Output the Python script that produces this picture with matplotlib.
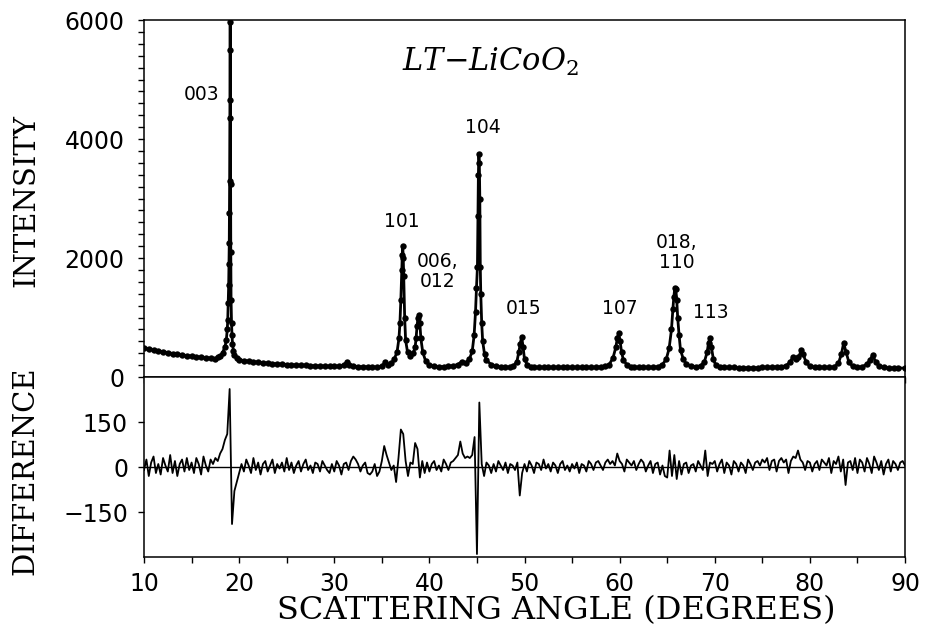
import numpy as np
import matplotlib
matplotlib.use("Agg")
import matplotlib.pyplot as plt

plt.rcParams['mathtext.fontset'] = 'dejavuserif'

obs_angle = [10.0, 10.5, 11.0, 11.5, 12.0, 12.5, 13.0, 13.5, 14.0, 14.5,
             15.0, 15.5, 16.0, 16.5, 17.0, 17.5, 17.8, 18.0, 18.25, 18.5,
             18.65, 18.75, 18.8, 18.85, 18.9, 18.93, 18.96, 18.98, 19.0, 19.02,
             19.04, 19.06, 19.08, 19.1, 19.12, 19.15, 19.2, 19.25, 19.3, 19.4,
             19.5, 19.75, 20.0, 20.5, 21.0, 21.5, 22.0, 22.5, 23.0, 23.5,
             24.0, 24.5, 25.0, 25.5, 26.0, 26.5, 27.0, 27.5, 28.0, 28.5,
             29.0, 29.5, 30.0, 30.5, 31.0, 31.3, 31.6, 32.0, 32.5, 33.0,
             33.5, 34.0, 34.5, 35.0, 35.35, 35.7, 36.0, 36.3, 36.6, 36.8,
             36.9, 37.0, 37.1, 37.15, 37.2, 37.25, 37.3, 37.4, 37.5, 37.7,
             38.0, 38.3, 38.5, 38.6, 38.7, 38.8, 38.9, 39.0, 39.1, 39.3,
             39.6, 40.0, 40.5, 41.0, 41.5, 42.0, 42.5, 43.0, 43.4, 43.8,
             44.2, 44.5, 44.7, 44.85, 44.95, 45.05, 45.1, 45.15, 45.2, 45.25,
             45.3, 45.35, 45.4, 45.5, 45.6, 45.8, 46.0, 46.5, 47.0, 47.5,
             48.0, 48.5, 48.8, 49.2, 49.4, 49.55, 49.7, 49.85, 50.0, 50.3,
             50.7, 51.0, 51.5, 52.0, 52.5, 53.0, 53.5, 54.0, 54.5, 55.0,
             55.5, 56.0, 56.5, 57.0, 57.5, 58.0, 58.5, 58.9, 59.3, 59.6,
             59.75, 59.9, 60.05, 60.2, 60.4, 60.8, 61.2, 61.5, 62.0, 62.5,
             63.0, 63.5, 64.0, 64.5, 64.9, 65.2, 65.45, 65.6, 65.7, 65.8,
             65.9, 66.0, 66.1, 66.25, 66.4, 66.7, 67.0, 67.5, 68.0, 68.5,
             68.9, 69.2, 69.35, 69.5, 69.65, 69.85, 70.1, 70.5, 71.0, 71.5,
             72.0, 72.5, 73.0, 73.5, 74.0, 74.5, 75.0, 75.5, 76.0, 76.5,
             77.0, 77.5, 77.9, 78.2, 78.5, 78.8, 79.1, 79.3, 79.6, 80.0,
             80.5, 81.0, 81.5, 82.0, 82.5, 83.0, 83.3, 83.55, 83.8, 84.1,
             84.5, 85.0, 85.5, 86.0, 86.3, 86.6, 86.9, 87.3, 87.8, 88.3,
             88.8, 89.3, 90.0]
obs_counts = [490, 470, 455, 440, 425, 410, 395, 385, 370, 360,
              350, 340, 330, 325, 315, 310, 330, 350, 410, 500,
              620, 800, 950, 1250, 1550, 1900, 2250, 2750, 3300, 4350,
              5500, 5960, 4650, 3250, 2100, 1300, 900, 700, 560, 440,
              370, 320, 290, 275, 265, 255, 250, 240, 235, 225,
              220, 215, 210, 205, 200, 195, 195, 190, 185, 185,
              180, 180, 180, 185, 200, 250, 205, 185, 175, 170,
              170, 165, 165, 180, 250, 210, 230, 300, 420, 650,
              900, 1300, 1800, 2050, 2200, 2000, 1700, 1000, 620, 420,
              360, 400, 500, 650, 850, 1000, 1050, 900, 650, 420,
              270, 200, 180, 170, 175, 180, 190, 210, 260, 240,
              300, 430, 700, 1100, 1500, 1850, 2700, 3400, 3750, 3600,
              3000, 1850, 1400, 900, 600, 380, 280, 210, 180, 170,
              165, 165, 180, 260, 420, 560, 680, 500, 300, 200,
              170, 165, 160, 160, 160, 160, 160, 160, 160, 160,
              160, 160, 160, 160, 165, 170, 180, 210, 320, 500,
              650, 740, 600, 420, 280, 200, 170, 165, 160, 160,
              160, 165, 170, 210, 300, 480, 800, 1150, 1350, 1500,
              1480, 1300, 1000, 700, 450, 300, 220, 185, 175, 190,
              250, 420, 580, 660, 500, 300, 200, 170, 160, 160,
              160, 155, 155, 155, 155, 155, 160, 160, 165, 170,
              175, 190, 250, 330, 300, 330, 450, 380, 250, 180,
              165, 160, 160, 160, 165, 230, 380, 570, 420, 250,
              180, 165, 170, 220, 280, 370, 260, 180, 160, 155,
              150, 150, 150]

# difference pattern on a 0.25 degree grid
diff_angle = np.arange(10.0, 90.01, 0.25)
diff_value = [-10, 25, -30, 15, 35, -20, 10, -25, 30, 5, -15, 40, -20, 20, -30, 10, 25, -15, 30, -10,
              15, -20, 30, 10, -25, 35, 5, -15, 25, 10, 30, 20, 45, 60, 90, 110, 260, -190, -80, -50,
              -20, 10, -15, 25, 5, -20, 30, -10, 15, -25, 10, 20, -15, 5, 25, -20, 10, -5, 15, -15,
              30, -10, 15, -20, 5, 20, -15, 10, 25, -10, 5, -20, 15, 10, -15, 20, 5, -10, -20, 10,
              -15, 20, 5, -25, 10, 15, -10, 20, 35, 25, 10, -15, 5, 15, -20, -25, -15, 10, -30, -15,
              20, 70, 40, 15, -10, 5, -50, 30, 125, 110, 20, -30, 15, 10, 80, 60, -35, 20, -20, 15,
              -15, 10, 20, -10, 5, -15, 25, 10, -10, 15, 20, 30, 40, 85, 45, 30, 35, 30, 40, 100,
              -290, 215, 10, -30, 15, 5, -20, 10, -15, 20, 5, -10, 15, -20, 10, 5, -10, 15, -95, -20,
              10, -15, 20, 5, -20, 15, 10, -10, 25, -5, 10, -15, 15, 5, -20, 10, 20, -10, 5, -15,
              10, -5, 15, -20, 10, 5, -15, 20, 10, -10, 15, 20, 5, -10, 15, 25, 10, 20, 5, 45,
              20, 10, -15, 25, 15, 5, 20, -10, 10, 25, 15, -15, 5, 20, -20, 10, 15, -25, 5, -30,
              -35, 55, -30, 40, -40, 20, -25, 10, 15, -20, 5, 10, -15, 20, 5, -10, 55, -30, 15, 10,
              20, -15, 10, 25, -20, 15, 5, -25, 20, 10, -15, 15, 5, -20, 25, 10, -10, 15, 20, 5,
              25, 15, 30, -10, 20, 25, -15, 20, 30, 15, 25, -20, 20, 35, 30, 55, 25, 15, -10, 20,
              15, -15, 10, 20, -10, 25, 15, 5, 30, -20, 20, 10, 35, -15, 25, -60, 15, 20, -10, 30,
              -20, 25, 15, -15, 30, 10, -20, 35, 15, -10, 20, -25, 10, 25, -15, 20, 10, -10, 15, 20, 5]

# peak labels (hkl) and where they sit
peak_labels = ["003", "101", "006,\n012", "104", "015", "107", "018,\n110", "113"]
label_x = [16.1, 37.1, 40.9, 45.6, 49.9, 60.0, 66.0, 69.6]
label_y = [4750, 2610, 1770, 4190, 1150, 1150, 2090, 1080]

fig = plt.figure(figsize=(9.25, 6.27), dpi=100)
ax1 = fig.add_axes([0.1557, 0.3987, 0.8227, 0.5694])
ax2 = fig.add_axes([0.1557, 0.1116, 0.8227, 0.2871])

tickfont = "DejaVu Sans"
labfont = "DejaVu Serif"

# top: observed intensity, dots joined by a line
ax1.plot(obs_angle, obs_counts, '-', color='black', lw=2.0)
ax1.plot(obs_angle, obs_counts, 'o', color='black', ms=4.6, mew=0)
ax1.set_xlim(10, 90)
ax1.set_ylim(0, 6000)
ax1.set_yticks([0, 2000, 4000, 6000])
ax1.set_yticks(np.arange(0, 6001, 200), minor=True)
ax1.set_xticks(np.arange(10, 91, 5))
ax1.set_xticklabels([])
ax1.tick_params(axis='y', which='both', direction='out', length=4, width=1,
                pad=10, labelsize=17)
ax1.tick_params(axis='x', direction='out', length=4, width=1)
for lab in ax1.get_yticklabels():
    lab.set_family(tickfont)

for t, x, y in zip(peak_labels, label_x, label_y):
    ax1.text(x, y, t, ha='center', va='center', fontsize=13.5,
             family=tickfont, linespacing=1.1)

ax1.text(46.4, 5300, "LT\u2212LiCoO$_2$", ha='center', va='center',
         fontsize=22, family=labfont, style='italic')

# bottom: difference
ax2.plot(diff_angle, diff_value, '-', color='black', lw=1.3)
ax2.axhline(0, color='black', lw=1.0)
ax2.set_xlim(10, 90)
ax2.set_ylim(-300, 300)
ax2.set_yticks([-150, 0, 150])
ax2.set_xticks(np.arange(10, 91, 10))
ax2.set_xticks(np.arange(10, 91, 5), minor=True)
ax2.tick_params(axis='y', direction='out', length=4.5, width=1, pad=7,
                labelsize=17)
ax2.tick_params(axis='x', which='both', direction='out', length=4.5, width=1,
                pad=6, labelsize=17)
for lab in ax2.get_xticklabels() + ax2.get_yticklabels():
    lab.set_family(tickfont)

for ax in (ax1, ax2):
    for s in ax.spines.values():
        s.set_linewidth(1.1)

fig.text(0.028, 0.681, "INTENSITY", rotation=90, ha='center', va='center',
         fontsize=21, family=labfont)
fig.text(0.028, 0.249, "DIFFERENCE", rotation=90, ha='center', va='center',
         fontsize=21, family=labfont)
fig.text(0.601, 0.027, "SCATTERING ANGLE (DEGREES)", ha='center', va='center',
         fontsize=23, family=labfont)

fig.savefig("out.png", dpi=100)
